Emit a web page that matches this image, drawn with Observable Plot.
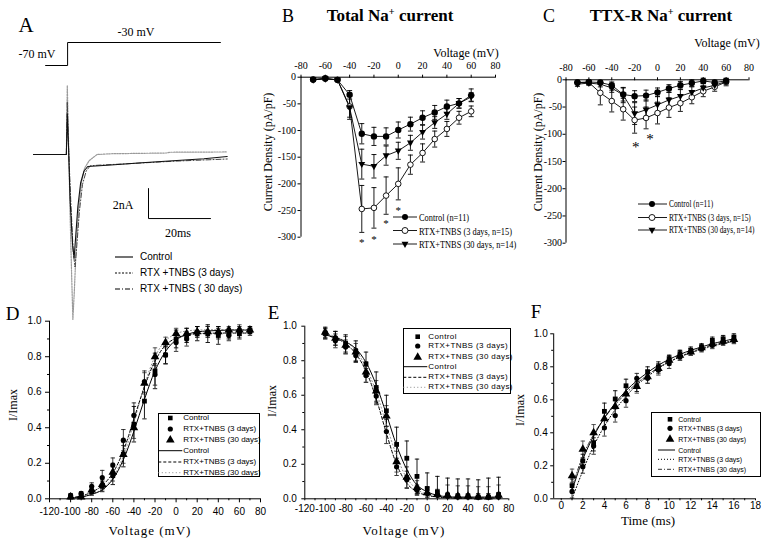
<!DOCTYPE html>
<html>
<head>
<meta charset="utf-8">
<script src="https://cdn.jsdelivr.net/npm/d3@7"></script>
<script src="https://cdn.jsdelivr.net/npm/@observablehq/plot@0.6"></script>
<style>
html, body { margin:0; padding:0; background:#fff; overflow:hidden; }
#fig { position:relative; width:761px; height:540px; overflow:hidden; background:#fff; font-family:"Liberation Serif","Times New Roman",serif; color:#000; }
#fig svg.serifplot text { font-family:"Liberation Serif","Times New Roman",serif !important; }
#fig svg.sansplot text { font-family:"Liberation Sans",Arial,sans-serif !important; }
.t { position:absolute; white-space:nowrap; line-height:1; transform:translate(-50%,-50%); }
.lt { position:absolute; white-space:nowrap; line-height:1; transform-origin:0 50%; }
.box { position:absolute; border:1px solid #000; background:#fff; box-sizing:border-box; }
sup { font-size:0.6em; vertical-align:0.55em; line-height:0; }
</style>
</head>
<body>
<div id="fig"></div>
<script>
// ================= DATA =================
// Panel A: example current traces (time in ms, current in nA)
const aCtrlT = [0,10.6,10.9,11.3,11.8,12.6,13.1,13.6,14.3,15.2,16.3,17.5,25,35,45,55,62.5];
const aCtrlI = [0,0,2.7,0.5,-3,-6,-6.9,-5.5,-3.5,-1.9,-1.1,-0.8,-0.7,-0.55,-0.42,-0.28,-0.13];
const a3dT = [0,10.6,10.9,11.3,11.8,12.3,12.7,13.2,13.8,14.6,15.5,16.5,18,20.5,25,43,44,62.5];
const a3dI = [0,0,4.6,1,-4,-8,-11,-9,-6,-3.5,-1.8,-0.9,-0.4,0,0.05,0.1,0.15,0.17];
const a30dT = [0,10.6,10.9,11.3,12,12.8,13.4,14,14.8,15.8,17,18.3,22,30,45,62.5];
const a30dI = [0,0,3.5,0.5,-3,-6.5,-7.5,-6,-3.8,-2,-1.1,-0.75,-0.7,-0.62,-0.45,-0.3];
const aStepT = [3.9, 11, 11, 60.3];
const aStepMv = [-70, -70, -30, -30];
const aBarT = [37.1, 37.1, 57.1];
const aBarI = [-2.27, -4.27, -4.27];
const aLegend = ["Control", "RTX +TNBS (3 days)", "RTX +TNBS ( 30 days)"];

// Panel B: total Na+ current density (pA/pF)
const bV = [-70,-60,-50,-40,-30,-20,-10,0,10,20,30,40,50,60];
const bControl = [-4,-2,-5,-33,-106,-111,-111,-99,-88,-76,-66,-55,-49,-34];
const bControlErr = [2,2,2,8,19,17,16,15,13,13,13,12,9,12];
const b3d = [-5,-3,-5,-55,-247,-245,-222,-200,-164,-142,-116,-97,-76,-64];
const b3dErr = [2,2,2,20,44,38,35,30,18,17,15,14,12,10];
const b30d = [-5,-3,-5,-57,-163,-167,-147,-138,-123,-103,-85,-69,-49,-37];
const b30dErr = [2,2,2,22,28,22,18,16,14,13,11,10,9,8];
const bStarV = [-30,-20,-10,0];
const bStarY = [-309,-305,-275,-249];
const bXTicks = [-80,-60,-40,-20,0,20,40,60,80];
const bYTicks = [0,-50,-100,-150,-200,-250,-300];
const bcLegend = ["Control (n=11)", "RTX+TNBS (3 days, n=15)", "RTX+TNBS (30 days, n=14)"];

// Panel C: TTX-R Na+ current density (pA/pF)
const cV = [-70,-60,-50,-40,-30,-20,-10,0,10,20,30,40,50,60];
const cControl = [-5,-4,-5,-10,-27,-30,-29,-23,-16,-10,-6,-2,-5,-2];
const cControlErr = [3,3,3,6,12,10,10,8,7,7,6,5,4,3];
const c3d = [-5,-5,-24,-39,-54,-74,-70,-61,-51,-43,-32,-21,-13,-4];
const c3dErr = [4,4,22,20,20,24,20,20,18,15,12,10,8,7];
const c30d = [-8,-6,-8,-15,-28,-62,-55,-46,-37,-30,-23,-15,-10,-3];
const c30dErr = [4,4,5,8,14,20,18,16,14,12,10,8,6,5];
const cStarV = [-19,-6.5];
const cStarY = [-123,-109];

// Panel D: activation (I/Imax vs voltage)
const dV = [-100,-90,-80,-70,-60,-50,-40,-30,-20,-10,0,10,20,30,40,50,60,70];
const dControl = [0.01,0.02,0.04,0.07,0.13,0.25,0.42,0.55,0.72,0.81,0.90,0.92,0.93,0.93,0.92,0.93,0.93,0.95];
const dControlErr = [0.01,0.01,0.02,0.03,0.05,0.07,0.10,0.10,0.10,0.05,0.05,0.04,0.04,0.05,0.05,0.03,0.03,0.02];
const d3d = [0.02,0.03,0.07,0.12,0.19,0.33,0.47,0.66,0.70,0.81,0.88,0.90,0.94,0.94,0.93,0.92,0.94,0.94];
const d3dErr = [0.01,0.01,0.02,0.04,0.04,0.06,0.07,0.06,0.06,0.05,0.05,0.04,0.03,0.03,0.03,0.03,0.03,0.02];
const d30d = [0.01,0.01,0.05,0.08,0.15,0.25,0.40,0.65,0.80,0.88,0.93,0.93,0.94,0.94,0.94,0.95,0.95,0.95];
const d30dErr = [0.01,0.01,0.02,0.03,0.05,0.05,0.06,0.06,0.05,0.03,0.03,0.03,0.03,0.03,0.03,0.02,0.03,0.02];
const dFitControl = [0.004,0.01,0.025,0.05,0.11,0.22,0.38,0.56,0.72,0.83,0.895,0.925,0.94,0.945,0.948,0.95,0.95,0.95];
const dFit3d = [0.006,0.016,0.037,0.075,0.145,0.27,0.45,0.63,0.775,0.865,0.905,0.922,0.93,0.932,0.933,0.933,0.933,0.933];
const dFit30d = [0.003,0.01,0.025,0.055,0.12,0.24,0.43,0.64,0.80,0.89,0.93,0.945,0.95,0.952,0.953,0.953,0.953,0.953];
const vTicks = [-120,-100,-80,-60,-40,-20,0,20,40,60,80];
const vMinor = [-110,-90,-70,-50,-30,-10,10,30,50,70];
const iTicks = [0,0.2,0.4,0.6,0.8,1.0];
const iMinor = [0.1,0.3,0.5,0.7,0.9];
const defLegend = ["Control", "RTX+TNBS (3 days)", "RTX+TNBS (30 days)", "Control", "RTX+TNBS (3 days)", "RTX+TNBS (30 days)"];

// Panel E: steady-state inactivation
const eV = [-100,-90,-80,-70,-60,-50,-40,-30,-20,-10,0,10,20,30,40,50,60,70];
const eControl = [0.96,0.93,0.90,0.855,0.78,0.645,0.51,0.315,0.235,0.13,0.06,0.04,0.02,0.015,0.015,0.01,0.01,0.025];
const eControlErr = [0.03,0.04,0.05,0.06,0.07,0.09,0.09,0.10,0.10,0.10,0.09,0.09,0.10,0.10,0.10,0.10,0.11,0.10];
const e3d = [0.955,0.915,0.88,0.83,0.715,0.595,0.39,0.185,0.11,0.05,0.03,0.02,0.015,0.01,0.01,0.01,0.01,0.01];
const e3dErr = [0.03,0.04,0.04,0.04,0.04,0.05,0.07,0.05,0.05,0.03,0.02,0.02,0.02,0.02,0.02,0.02,0.02,0.02];
const e30d = [0.965,0.93,0.89,0.85,0.735,0.625,0.48,0.215,0.125,0.065,0.035,0.025,0.02,0.015,0.015,0.01,0.01,0.02];
const e30dErr = [0.03,0.04,0.05,0.05,0.06,0.06,0.06,0.06,0.06,0.04,0.03,0.03,0.06,0.06,0.06,0.06,0.06,0.06];
const eFitControl = [0.95,0.935,0.91,0.87,0.79,0.66,0.49,0.31,0.17,0.08,0.04,0.02,0.012,0.01,0.01,0.01,0.01,0.01];
const eFit3d = [0.95,0.93,0.90,0.84,0.74,0.58,0.38,0.20,0.09,0.04,0.02,0.01,0.006,0.005,0.005,0.005,0.005,0.005];
const eFit30d = [0.96,0.94,0.91,0.86,0.76,0.62,0.43,0.25,0.12,0.055,0.025,0.012,0.008,0.008,0.008,0.008,0.008,0.008];

// Panel F: recovery from inactivation
const fT = [1,2,3,4,5,6,7,8,9,10,11,12,13,14,15,16];
const fControl = [0.08,0.23,0.34,0.53,0.605,0.685,0.68,0.77,0.80,0.85,0.88,0.90,0.92,0.96,0.97,0.98];
const fControlErr = [0.04,0.04,0.05,0.05,0.05,0.04,0.03,0.03,0.03,0.02,0.02,0.02,0.02,0.02,0.02,0.02];
const f3d = [0.045,0.195,0.32,0.43,0.505,0.595,0.73,0.73,0.78,0.82,0.86,0.89,0.91,0.93,0.95,0.96];
const f3dErr = [0.04,0.04,0.05,0.05,0.04,0.04,0.03,0.03,0.03,0.03,0.02,0.02,0.02,0.02,0.02,0.02];
const f30d = [0.14,0.30,0.40,0.485,0.56,0.635,0.68,0.74,0.79,0.84,0.87,0.89,0.915,0.94,0.955,0.965];
const f30dErr = [0.04,0.05,0.05,0.05,0.05,0.04,0.04,0.04,0.03,0.03,0.03,0.02,0.02,0.02,0.02,0.02];
const fFitControl = [0.05,0.24,0.38,0.49,0.58,0.655,0.715,0.765,0.81,0.845,0.875,0.90,0.92,0.94,0.955,0.97];
const fFit3d = [0.0,0.17,0.32,0.44,0.54,0.62,0.69,0.74,0.79,0.83,0.86,0.89,0.91,0.93,0.945,0.96];
const fFit30d = [0.07,0.26,0.39,0.49,0.57,0.64,0.70,0.75,0.795,0.83,0.86,0.885,0.905,0.925,0.94,0.955];
const tTicks = [0,2,4,6,8,10,12,14,16,18];
const tMinor = [1,3,5,7,9,11,13,15,17];

// ================= HELPERS =================
const W = 761, H = 540;
const fig = document.getElementById("fig");
const SERIF = "Liberation Serif";
const SANS = "Liberation Sans";
const fmt1 = d3.format(".1f");

function pts(xs, ys, es, g) { return xs.map((x, i) => ({x, y: ys[i], e: es ? es[i] : 0, g})); }

const capSym = {draw(ctx, size) { const r = Math.sqrt(size / Math.PI); ctx.moveTo(-r, 0); ctx.lineTo(r, 0); }};
const downTri = {draw(ctx, size) { const r = Math.sqrt(size / Math.PI); ctx.moveTo(-1.15*r, -0.75*r); ctx.lineTo(1.15*r, -0.75*r); ctx.lineTo(0, 1.3*r); ctx.closePath(); }};

function errMarks(data, capR, stroke, clampZero) {
  const lo = d => clampZero ? Math.max(0, d.y - d.e) : d.y - d.e;
  return [
    Plot.ruleX(data, {x: "x", y1: lo, y2: d => d.y + d.e, stroke, strokeWidth: 0.9}),
    Plot.dot(data.filter(d => !clampZero || d.y - d.e > 0), {x: "x", y: lo, symbol: capSym, r: capR, stroke, fill: "none", strokeWidth: 0.9}),
    Plot.dot(data, {x: "x", y: d => d.y + d.e, symbol: capSym, r: capR, stroke, fill: "none", strokeWidth: 0.9})
  ];
}

function addPlot(px, xDomain, yDomain, marks, noAxes, sans) {
  const [xl, xr, yt, yb] = px;
  const svg = Plot.plot({
    width: W, height: H,
    className: sans ? "sansplot" : "serifplot",
    marginLeft: xl, marginRight: W - xr, marginTop: yt, marginBottom: H - yb,
    x: noAxes ? {domain: xDomain, axis: null} : {domain: xDomain},
    y: noAxes ? {domain: yDomain, axis: null} : {domain: yDomain},
    style: {position: "absolute", left: "0px", top: "0px", background: "transparent", overflow: "visible", fontFamily: sans ? SANS : SERIF},
    marks
  });
  svg.classList.add(sans ? "sansplot" : "serifplot");
  fig.appendChild(svg);
}

// ================= PANEL A =================
addPlot([33, 228.3, 79, 334], [0, 63], [-12, 5], [
  Plot.line(pts(a3dT, a3dI), {x: "x", y: "y", stroke: "#9a9a9a", strokeWidth: 1.2, strokeDasharray: "1.5,1.2"}),
  Plot.line(pts(a30dT, a30dI), {x: "x", y: "y", stroke: "#444", strokeWidth: 1, strokeDasharray: "5,2,1,2"}),
  Plot.line(pts(aCtrlT, aCtrlI), {x: "x", y: "y", stroke: "#111", strokeWidth: 1.1}),
  Plot.line(pts(aBarT, aBarI), {x: "x", y: "y", stroke: "#000", strokeWidth: 1})
], true);
addPlot([33, 228.3, 42, 65], [0, 63], [-70, -30], [
  Plot.line(pts(aStepT, aStepMv), {x: "x", y: "y", stroke: "#000", strokeWidth: 1})
], true);

// ================= PANEL B / C =================
function ivPanel(px, V, ctrl, ctrlE, s3, s3E, s30, s30E, starV, starY, starSize, tickPad, yPad) {
  const c = pts(V, ctrl, ctrlE, "c"), o = pts(V, s3, s3E, "o"), t = pts(V, s30, s30E, "t");
  addPlot(px, [-80, 80], [-300, 0], [
    Plot.ruleY([0], {stroke: "#000"}),
    Plot.ruleX([-80], {stroke: "#000"}),
    Plot.axisX({anchor: "top", ticks: bXTicks, tickSize: 3, tickPadding: tickPad, tickFormat: String, fontSize: 10, fontFamily: SERIF, label: null}),
    Plot.axisY({anchor: "left", ticks: bYTicks, tickSize: 3, tickPadding: yPad, tickFormat: String, fontSize: 10, fontFamily: SERIF, label: null}),
    ...errMarks(c, 2.5, "#000"), ...errMarks(o, 2.5, "#000"), ...errMarks(t, 2.5, "#000"),
    Plot.line(o, {x: "x", y: "y", stroke: "#000", strokeWidth: 0.9}),
    Plot.line(t, {x: "x", y: "y", stroke: "#000", strokeWidth: 0.9}),
    Plot.line(c, {x: "x", y: "y", stroke: "#000", strokeWidth: 0.9}),
    Plot.dot(o, {x: "x", y: "y", r: 2.8, fill: "#fff", stroke: "#000", strokeWidth: 0.9}),
    Plot.dot(t, {x: "x", y: "y", r: 3, symbol: downTri, fill: "#000", stroke: "none"}),
    Plot.dot(c, {x: "x", y: "y", r: 3.2, fill: "#000", stroke: "none"}),
    Plot.text(pts(starV, starY), {x: "x", y: "y", text: () => "*", fill: "#000", fontSize: starSize, fontFamily: SERIF})
  ], false, false);
}
ivPanel([300.5, 495, 76.7, 236.7], bV, bControl, bControlErr, b3d, b3dErr, b30d, b30dErr, bStarV, bStarY, 11, 5, 2);
ivPanel([565.5, 748.5, 79.3, 242.7], cV, cControl, cControlErr, c3d, c3dErr, c30d, c30dErr, cStarV, cStarY, 15, 6, 1);

// ================= PANELS D / E / F =================
function normPanel(px, xDomain, xTicks, xMinor, X, ctrl, ctrlE, s3, s3E, s30, s30E, fX, fC, f3, f30, dash3, dash30, col30, ax) {
  const c = pts(X, ctrl, ctrlE), o = pts(X, s3, s3E), t = pts(X, s30, s30E);
  addPlot(px, xDomain, [0, 1], [
    Plot.ruleY([0], {stroke: "#000"}),
    Plot.ruleX([xDomain[0]], {y1: 0, y2: 1, stroke: "#000"}),
    Plot.axisX({ticks: xTicks, tickSize: ax.xs, tickPadding: ax.xp, tickFormat: String, fontSize: 10, fontFamily: SANS, label: null}),
    Plot.axisX({ticks: xMinor, tickSize: 2, tickPadding: 0, tickFormat: () => "", label: null}),
    Plot.axisY({ticks: iTicks, tickSize: ax.ys, tickPadding: ax.yp, tickFormat: fmt1, fontSize: 10, fontFamily: SANS, label: null}),
    Plot.axisY({ticks: iMinor, tickSize: 2, tickPadding: 0, tickFormat: () => "", label: null}),
    ...errMarks(t, 2.2, "#444", true), ...errMarks(o, 2.2, "#222", true), ...errMarks(c, 2.2, "#000", true),
    Plot.line(pts(fX, f30), {x: "x", y: "y", stroke: col30, strokeWidth: 1, strokeDasharray: dash30, curve: "catmull-rom"}),
    Plot.line(pts(fX, f3), {x: "x", y: "y", stroke: "#000", strokeWidth: 1, strokeDasharray: dash3, curve: "catmull-rom"}),
    Plot.line(pts(fX, fC), {x: "x", y: "y", stroke: "#000", strokeWidth: 1, curve: "catmull-rom"}),
    Plot.dot(t, {x: "x", y: "y", r: 3.2, symbol: "triangle", fill: "#000", stroke: "none"}),
    Plot.dot(o, {x: "x", y: "y", r: 2.6, fill: "#000", stroke: "none"}),
    Plot.dot(c, {x: "x", y: "y", r: 2.7, symbol: "square", fill: "#000", stroke: "none"})
  ], false, true);
}
normPanel([49, 260, 320.7, 498.3], [-120, 80], vTicks, vMinor, dV, dControl, dControlErr, d3d, d3dErr, d30d, d30dErr,
  dV, dFitControl, dFit3d, dFit30d, "3,2", "1,2.5", "#888", {xs: 4, xp: 5, ys: 4, yp: 4});
normPanel([304.3, 508.3, 325.7, 498.3], [-120, 80], vTicks, vMinor, eV, eControl, eControlErr, e3d, e3dErr, e30d, e30dErr,
  eV, eFitControl, eFit3d, eFit30d, "3,2", "1,2.5", "#888", {xs: 2, xp: 4, ys: 3, yp: 5});
normPanel([553.2, 755, 333.3, 498.3], [-0.7, 18], tTicks, tMinor, fT, fControl, fControlErr, f3d, f3dErr, f30d, f30dErr,
  fT, fFitControl, fFit3d, fFit30d, "1,2", "4,2,1,2", "#333", {xs: 2, xp: 1, ys: 3, yp: 3});

// ================= LEGENDS =================
function box(l, t, w, h) {
  const b = document.createElement("div");
  b.className = "box";
  Object.assign(b.style, {left: l + "px", top: t + "px", width: w + "px", height: h + "px"});
  fig.appendChild(b);
}
box(158.3, 412.7, 102, 64.6);
box(403.3, 328.3, 107.4, 65.7);
box(651, 411.7, 109.7, 65.6);

const sw = d3.create("svg").attr("width", W).attr("height", H)
  .style("position", "absolute").style("left", "0px").style("top", "0px").style("overflow", "visible");
function swLine(x1, x2, y, stroke, dash, w) {
  sw.append("line").attr("x1", x1).attr("x2", x2).attr("y1", y).attr("y2", y)
    .attr("stroke", stroke).attr("stroke-width", w || 1).attr("stroke-dasharray", dash || null);
}
function swMark(kind, x, y, r) {
  const p = sw.append("path").attr("transform", `translate(${x},${y})`);
  const s = r * r * Math.PI;
  if (kind === "open") p.attr("d", d3.symbol(d3.symbolCircle, s)()).attr("fill", "#fff").attr("stroke", "#000").attr("stroke-width", 0.9);
  else if (kind === "down") p.attr("d", d3.symbol(downTri, s)()).attr("fill", "#000");
  else if (kind === "square") p.attr("d", d3.symbol(d3.symbolSquare, s)()).attr("fill", "#000");
  else if (kind === "tri") p.attr("d", d3.symbol(d3.symbolTriangle, s)()).attr("fill", "#000");
  else p.attr("d", d3.symbol(d3.symbolCircle, s)()).attr("fill", "#000");
}
function ltext(txt, x, y, size, family, extra) {
  const d = document.createElement("div");
  d.className = "lt";
  d.textContent = txt;
  Object.assign(d.style, {left: x + "px", top: y + "px", fontSize: size + "px", fontFamily: family,
    transform: "translateY(-50%)" + (extra && extra.sx ? ` scaleX(${extra.sx})` : ""),
    letterSpacing: extra && extra.ls ? extra.ls + "px" : "normal"});
  fig.appendChild(d);
}

// Panel A legend
const aRows = [257, 273, 289];
swLine(115, 133, aRows[0], "#000", null, 1.1);
swLine(115, 133, aRows[1], "#000", "2,1.5", 1);
swLine(115, 133, aRows[2], "#000", "5,2,1,2", 1);
aLegend.forEach((s, i) => ltext(s, 140, aRows[i], 10, SANS));

// Panel B / C legends
function ivLegend(rows, x1, x2, mx, tx, size, sx) {
  const kinds = ["fill", "open", "down"];
  rows.forEach((y, i) => { swLine(x1, x2, y, "#000", null, 0.9); swMark(kinds[i], mx, y, 3); ltext(bcLegend[i], tx, y, size, SERIF, {sx}); });
}
ivLegend([217, 230.5, 244], 393, 417, 405, 419, 11, 0.76);
ivLegend([204, 217.5, 230], 638, 667, 652, 669, 10.5, 0.7);

// D / E / F legends
function normLegend(l, t, rowsRel, symX, lineX1, lineX2, txtX, size, ls, dash3, dash30, col30) {
  const kinds = ["square", "circle", "tri"];
  rowsRel.forEach((r, i) => {
    const y = t + r;
    if (i < 3) swMark(kinds[i], l + symX, y, i === 2 ? 3.2 : 2.6);
    else if (i === 3) swLine(l + lineX1, l + lineX2, y, "#000", null, 1);
    else if (i === 4) swLine(l + lineX1, l + lineX2, y, "#000", dash3, 1);
    else swLine(l + lineX1, l + lineX2, y, col30, dash30, 1);
    ltext(defLegend[i], l + txtX, y, size, SANS, {ls});
  });
}
normLegend(158.3, 412.7, [5.3, 16.3, 27.3, 38, 49.3, 60], 12, 0, 24, 25, 8, 0, "3,2", "1,2.5", "#888");
normLegend(403.3, 328.3, [8.4, 17.7, 29, 38.4, 49, 59], 14.4, 0, 24, 25, 8, 0.4, "3,2", "1,2.5", "#888");
normLegend(651, 411.7, [7.6, 16.6, 27.6, 38.3, 47.6, 57.6], 19, 7, 24, 27.3, 7, 0, "1,2", "4,2,1,2", "#333");
fig.appendChild(sw.node());

// ================= TITLES & AXIS LABELS =================
const labels = [
  ["A", 26, 25, 21], ["-30 mV", 136, 32, 12], ["-70 mV", 37, 54, 12], ["2nA", 123, 205, 12], ["20ms", 178, 233, 12],
  ["B", 288, 16, 18], ["Total Na<sup>+</sup> current", 390, 15, 17, "bold"], ["Voltage (mV)", 466, 53, 12],
  ["Current Density (pA/pF)", 268, 152, 12, "rot"],
  ["C", 549, 15.5, 18], ["TTX-R Na<sup>+</sup> current", 661, 15, 17, "bold"], ["Voltage (mV)", 727, 43, 12],
  ["Current Density (pA/pF)", 538, 152, 12, "rot"],
  ["D", 12.5, 312.5, 19], ["I/Imax", 13, 405, 12, "rot"], ["Voltage (mV)", 150, 530, 13, "ls"],
  ["E", 273.5, 312, 19], ["I/Imax", 272, 401, 12, "rot"], ["Voltage (mV)", 404, 530, 13, "ls"],
  ["F", 536, 311, 19], ["I/Imax", 520, 410, 12, "rot"], ["Time (ms)", 648, 520, 13]
];
labels.forEach(([txt, x, y, size, kind]) => {
  const d = document.createElement("div");
  d.className = "t";
  d.innerHTML = txt;
  Object.assign(d.style, {left: x + "px", top: y + "px", fontSize: size + "px"});
  if (kind === "bold") d.style.fontWeight = "bold";
  if (kind === "rot") d.style.transform = "translate(-50%,-50%) rotate(-90deg)";
  if (kind === "ls") d.style.letterSpacing = "1px";
  fig.appendChild(d);
});
</script>
</body>
</html>
